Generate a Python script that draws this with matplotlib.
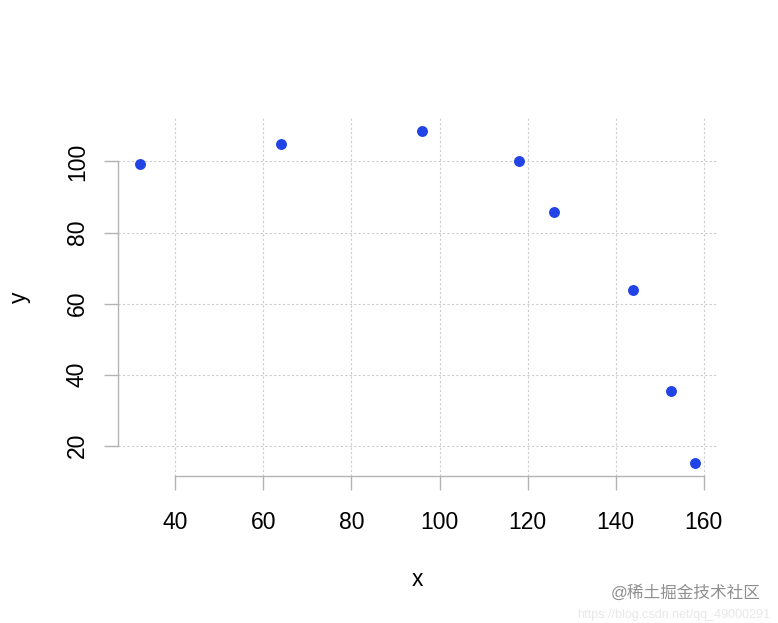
import matplotlib
matplotlib.use('Agg')
import matplotlib.pyplot as plt

# данные
x = [32, 64, 96, 118, 126, 144, 152.5, 158]
y = [99.4, 104.8, 108.5, 100, 85.9, 63.9, 35.5, 15.2]
x_ticks = [40, 60, 80, 100, 120, 140, 160]
y_ticks = [20, 40, 60, 80, 100]

plt.rcParams['font.family'] = ['Liberation Sans', 'Noto Sans CJK SC', 'DejaVu Sans']

fig = plt.figure(figsize=(7.78, 6.23), dpi=100)
ax = fig.add_axes([0.1517, 0.2360, 0.7699, 0.5746])

# отступы как в R (4% с каждой стороны)
dx = (max(x) - min(x)) * 0.04
dy = (max(y) - min(y)) * 0.04
ax.set_xlim(min(x) - dx, max(x) + dx)
ax.set_ylim(min(y) - dy, max(y) + dy)

ax.grid(True, color='#cccccc', linestyle=(0, (2, 2)), linewidth=0.8)
ax.set_axisbelow(True)
ax.scatter(x, y, s=62, color='#2244e6', zorder=3, linewidths=0)

ax.set_xticks(x_ticks)
ax.set_yticks(y_ticks)
ax.set_yticklabels([str(v) for v in y_ticks], rotation=90, va='center')

for side in ['top', 'right']:
    ax.spines[side].set_visible(False)
ax.spines['bottom'].set_bounds(x_ticks[0], x_ticks[-1])
ax.spines['left'].set_bounds(y_ticks[0], y_ticks[-1])
for side in ['bottom', 'left']:
    ax.spines[side].set_color('#b3b3b3')
    ax.spines[side].set_linewidth(1)

ax.tick_params(axis='both', length=10, width=1, color='#b3b3b3', labelsize=16.5, labelcolor='black')
ax.tick_params(axis='x', pad=15.5)
ax.tick_params(axis='y', pad=11)

ax.set_xlabel('x', fontsize=16.5, labelpad=24)
ax.set_ylabel('y', fontsize=16.5, labelpad=25)

# водяной знак
fig.text(0.978, 0.036, '@稀土掘金技术社区', ha='right', va='bottom',
         fontsize=12, color='#8f8f8f')
fig.text(0.99, 0.003, 'https://blog.csdn.net/qq_49000291', ha='right', va='bottom',
         fontsize=9, color='#e8e8e8')

plt.savefig('out.png', dpi=100)
